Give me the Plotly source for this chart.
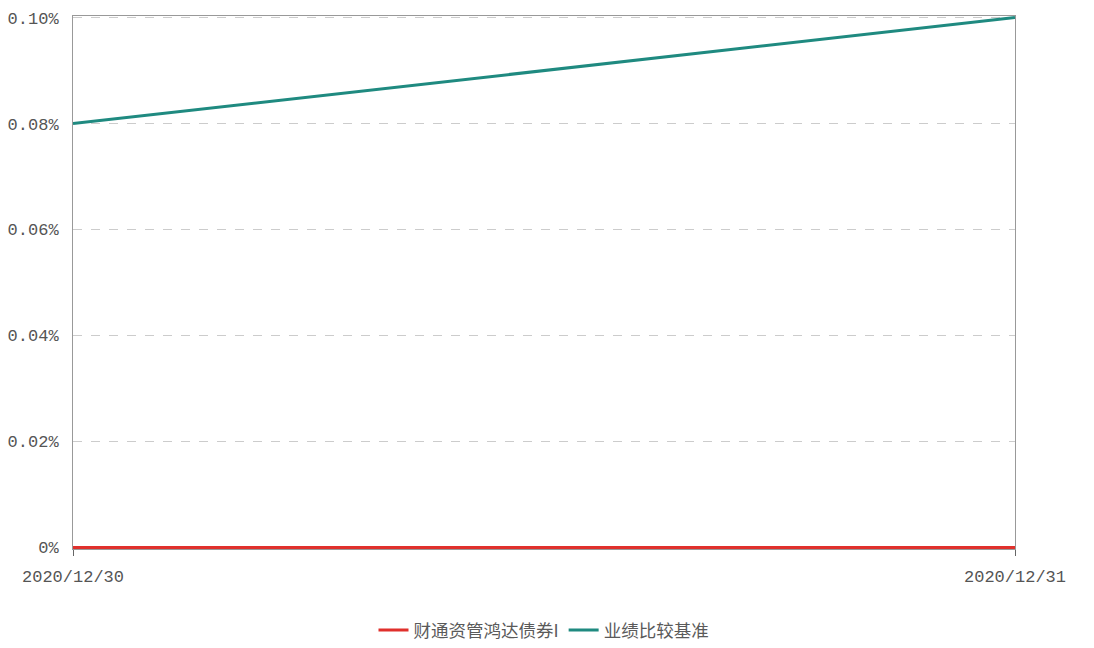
import plotly.graph_objects as go

dates = ["2020/12/30", "2020/12/31"]
fund_values = [0.0, 0.0]
benchmark_values = [0.08, 0.10]
fund_name = "财通资管鸿达债券I"
bench_name = "业绩比较基准"
y_tickvals = [0, 0.02, 0.04, 0.06, 0.08, 0.10]
y_ticktext = ["0%", "0.02%", "0.04%", "0.06%", "0.08%", "0.10%"]

fig = go.Figure()
fig.add_trace(go.Scatter(x=dates, y=fund_values, mode="lines", name=fund_name,
                         line=dict(color="#e0302c", width=3)))
fig.add_trace(go.Scatter(x=dates, y=benchmark_values, mode="lines", name=bench_name,
                         line=dict(color="#1f8a80", width=3)))

tick_font = dict(family="Liberation Mono, DejaVu Sans Mono, monospace", size=17, color="#555555")
fig.update_layout(
    width=1094, height=648,
    margin=dict(l=65, r=87, t=8, b=85),
    paper_bgcolor="white", plot_bgcolor="white",
    showlegend=True,
    legend=dict(orientation="h", x=0.5, xanchor="center", y=-0.152, yanchor="middle",
                font=dict(family="Noto Sans CJK SC", size=17.5, color="#5a5a5a"),
                itemwidth=30),
    xaxis=dict(type="category", range=[0, 1], showgrid=False, automargin=False,
               showline=True, linecolor="#999999", linewidth=1, mirror=True,
               ticks="outside", ticklen=6, tickcolor="#666666",
               ticklabelstandoff=6, layer="below traces",
               tickfont=tick_font, zeroline=False),
    yaxis=dict(range=[-0.0003, 0.1003], tickvals=y_tickvals, ticktext=y_ticktext,
               automargin=False, layer="below traces",
               showgrid=True, gridcolor="#cccccc", griddash="dash", gridwidth=1,
               showline=True, linecolor="#999999", linewidth=1, mirror=True,
               ticks="", ticklabelstandoff=10, tickfont=tick_font, zeroline=False),
)
fig.write_html("out.html")
